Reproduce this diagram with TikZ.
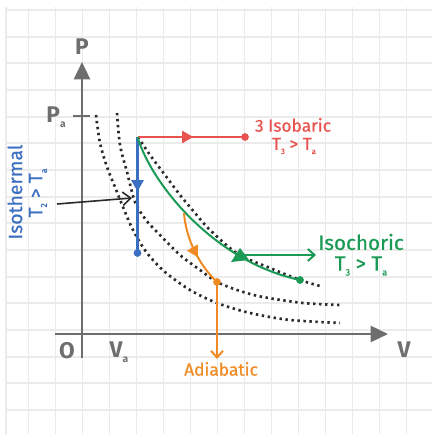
\documentclass[tikz,border=0pt]{standalone}
\usepackage{fontspec}
\setmainfont{Fira Sans}
\newfontfamily\medf{Fira Sans}[FakeBold=0.6]
\usetikzlibrary{arrows.meta,decorations.markings}
\definecolor{gridc}{HTML}{EBEBEB}
\definecolor{axisc}{HTML}{6E6E6E}
\definecolor{redc}{HTML}{E8524F}
\definecolor{bluec}{HTML}{3B6FC1}
\definecolor{greenc}{HTML}{1A9A55}
\definecolor{orangec}{HTML}{F08A24}
\definecolor{dotk}{HTML}{2A2A2A}
\newcommand{\sbs}[1]{\raisebox{-0.45ex}{\scalebox{0.45}{#1}}}
\begin{document}
\begin{tikzpicture}[x=0.75pt,y=-0.75pt,
  gridline/.style={draw=gridc,line width=1.4pt},
  axis/.style={draw=axisc,line width=1.9pt},
  axlabel/.style={text=axisc,font=\fontsize{17}{20}\selectfont\bfseries,inner sep=0pt},
  dotcurve/.style={draw=dotk,line width=2pt,dash pattern=on 1.8pt off 2.7pt},
  redline/.style={draw=redc,line width=1.6pt},
  blueline/.style={draw=bluec,line width=1.7pt},
  greenline/.style={draw=greenc,line width=1.5pt},
  orangeline/.style={draw=orangec,line width=1.5pt},
  dotnode/.style={circle,inner sep=0pt,minimum size=5.8pt},
  marrow/.style 2 args={postaction={decorate},decoration={markings,mark=at position #1 with {\arrow{Triangle[length=8.5pt,width=9pt,#2]}}}},
  lab/.style={inner sep=0pt,font=\medf\fontsize{#1}{#1}\selectfont},
]
\useasboundingbox (0,0) rectangle (432,434);
% grid
\draw[gridline] (6,7) -- (6,434);
\foreach \i in {0,...,14} \draw[gridline] ({28.5+27*\i},7) -- ({28.5+27*\i},434);
\foreach \j in {0,...,15} \draw[gridline] (6,{10+26.667*\j}) -- (432,{10+26.667*\j});

% axes
\coordinate (ybot) at (82,358);
\coordinate (ytop) at (82,62);
\coordinate (xl) at (55,334);
\coordinate (xr) at (388,334);
\coordinate (tkL) at (73,116);
\coordinate (tkR) at (90,116);
\draw[axis,-{Triangle[length=13pt,width=12pt]}] (ybot) -- (ytop);
\draw[axis,-{Triangle[length=13pt,width=12pt]}] (xl) -- (xr);
\draw[axis] (tkL) -- (tkR);

\node[axlabel] (Plab) at (82,47) {P};
\node[axlabel] (Palab) at (56,117) {P\sbs{a}};
\node[axlabel] (Olab) at (67,351) {O};
\node[axlabel] (Valab) at (119,352) {V\sbs{a}};
\node[axlabel] (Vlab) at (404,350) {V};

% dotted isotherms
\draw[dotcurve] plot[smooth] coordinates {(96,115) (100,143) (107,167) (115,187) (123,207) (133,230) (147,253) (165,272) (190,290) (217,303) (250,313) (290,320) (340,323)};
\draw[dotcurve] plot[smooth] coordinates {(117,113) (120,145) (127,172) (135,202) (146,220) (158,233) (180,255) (200,270) (217,282) (240,291) (263,297) (303,303) (340,305)};
\draw[dotcurve] plot[smooth] coordinates {(138,137) (150,155) (165,175) (180,195) (195,213) (210,230) (238,254) (270,268) (300,280) (320,286)};

% key points
\coordinate (pC) at (137.5,137);
\coordinate (pR) at (245,137);
\coordinate (pB) at (137.5,253);
\coordinate (pG) at (300,280);
\coordinate (pO) at (217,282);
\coordinate (pOS) at (184,213);

% processes
\draw[redline,marrow={0.52}{}] (pC) -- (pR);
\draw[blueline,marrow={0.47}{}] (pC) -- (pB);
\draw[greenline] (pC) .. controls (152,185) and (215,262) .. (pG);
\draw[orangeline,marrow={0.6}{}] (pOS) .. controls (186,240) and (200,266) .. (pO);
\fill[greenc] (240,248) -- (231,262) -- (249,260) -- cycle;

\coordinate (gaS) at (240,255);
\coordinate (gaE) at (316,255);
\draw[greenline,-{Straight Barb[length=5pt,width=9pt]}] (gaS) -- (gaE);
\coordinate (oaE) at (217,359);
\draw[orangeline,-{Straight Barb[length=5pt,width=9pt]}] (pO) -- (oaE);
\coordinate (baS) at (57,204);
\coordinate (baE) at (132,198);
\draw[draw=dotk,line width=1.2pt,-{Straight Barb[length=6pt,width=10pt]}] (baS) -- (baE);

\node[dotnode,fill=redc] (R) at (pR) {};
\node[dotnode,fill=bluec] (B) at (pB) {};
\node[dotnode,fill=greenc] (G) at (pG) {};
\node[dotnode,fill=orangec] (O) at (pO) {};

% labels
\node[lab=13,text=redc] (isob) at (293,125) {3 Isobaric};
\node[lab=13,text=redc] (isobT) at (294,146) {T\sbs{3} > T\sbs{a}};
\node[lab=15.5,text=greenc] (isoc) at (361,242) {Isochoric};
\node[lab=15.5,text=greenc] (isocT) at (361,266) {T\sbs{3} > T\sbs{a}};
\node[lab=13,text=orangec] (adia) at (221,369) {Adiabatic};
\node[lab=14.5,text=bluec,rotate=90] (isot) at (15,192) {Isothermal};
\node[lab=14.5,text=bluec,rotate=90] (isotT) at (38,193) {T\sbs{2} > T\sbs{a}};
\end{tikzpicture}
\end{document}
